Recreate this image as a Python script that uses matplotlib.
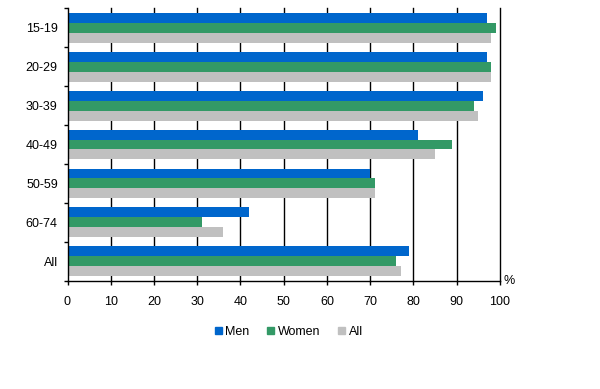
import matplotlib
matplotlib.use("Agg")
import matplotlib.pyplot as plt
import numpy as np
from matplotlib.patches import Patch

categories = ["15-19", "20-29", "30-39", "40-49", "50-59", "60-74", "All"]
men = [97, 97, 96, 81, 70, 42, 79]
women = [99, 98, 94, 89, 71, 31, 76]
all_ = [98, 98, 95, 85, 71, 36, 77]
series_names = ["Men", "Women", "All"]
colors = ["#0066CC", "#339966", "#C0C0C0"]
xticks = list(range(0, 101, 10))

plt.rcParams['font.family'] = ['Liberation Sans', 'DejaVu Sans']
fig = plt.figure(figsize=(6, 3.89), dpi=100)
ax = fig.add_axes([0.1125, 0.278, 0.7208, 0.701])

y = np.arange(len(categories))
h = 0.256
for k, (vals, c) in enumerate(zip([men, women, all_], colors)):
    ax.barh(y + (k - 1) * h, vals, height=h, color=c, zorder=3)

ax.set_xlim(0, 100)
ax.set_ylim(len(categories) - 0.5, -0.5)
ax.set_xticks(xticks)
ax.set_xticklabels([str(t) for t in xticks], fontsize=9)
for t in xticks[1:]:
    ax.axvline(t, color="black", lw=1, zorder=1, clip_on=False)

ax.set_yticks(y)
ax.set_yticklabels(categories, fontsize=9)
ax.tick_params(axis='y', length=0, pad=7)
ax.set_yticks(np.arange(-0.5, len(categories) + 0.5, 1), minor=True)
ax.tick_params(axis='y', which='minor', length=3, width=1, color='black')
ax.tick_params(axis='x', length=3, width=1, pad=8)

for s in ["top", "right"]:
    ax.spines[s].set_visible(False)
for s in ["left", "bottom"]:
    ax.spines[s].set_linewidth(1)
    ax.spines[s].set_zorder(4)

fig.text(0.84, 0.278, "%", fontsize=9, ha="left", va="center")

handles = [Patch(color=c) for c in colors]
fig.legend(handles, series_names, loc="center", bbox_to_anchor=(0.481, 0.147),
           ncol=3, frameon=False, fontsize=9, handlelength=0.56,
           handleheight=0.56, handletextpad=0.3, columnspacing=1.4)

fig.savefig("out.png", dpi=100)
